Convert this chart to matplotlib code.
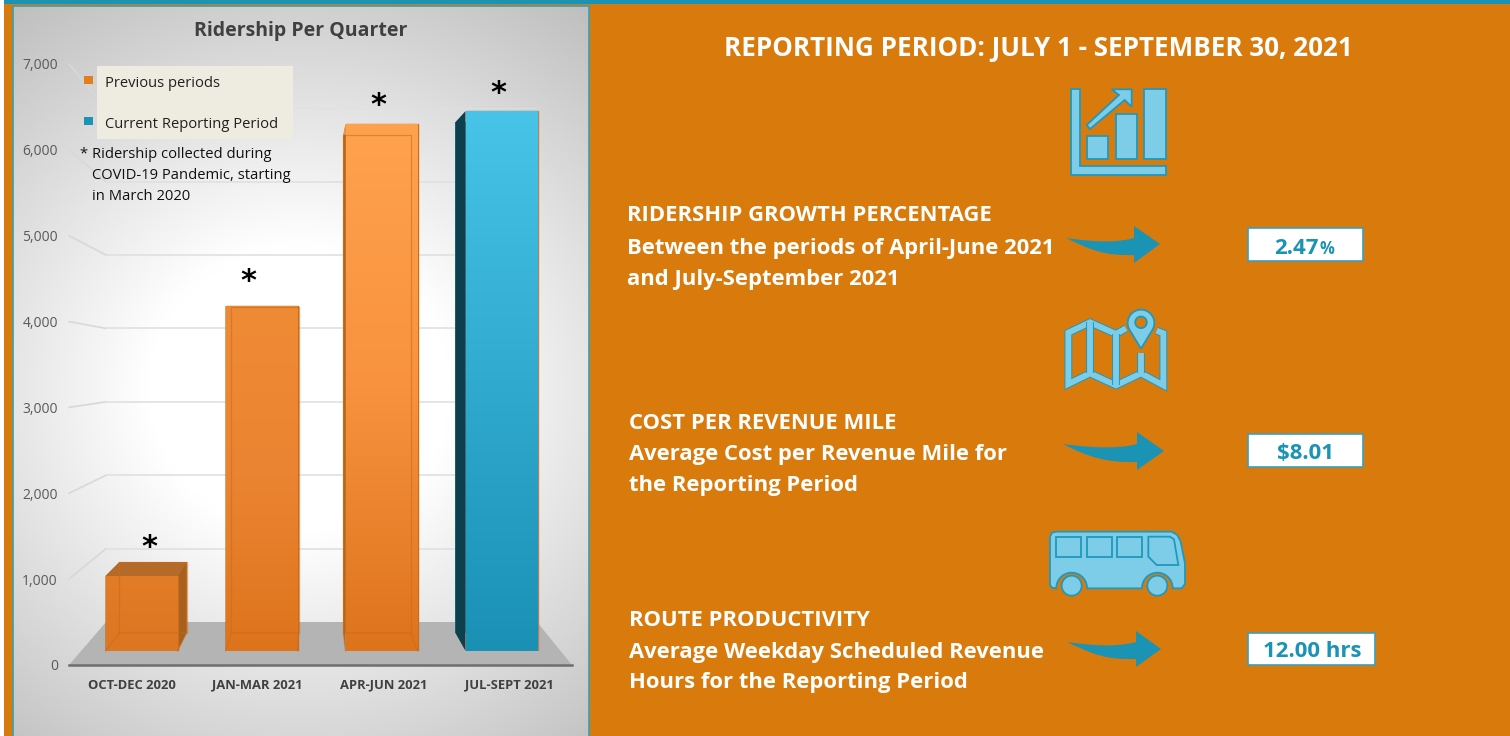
from __future__ import annotations

import matplotlib
matplotlib.use("Agg")
import matplotlib.pyplot as plt
import matplotlib.patheffects as pe
import numpy as np
from matplotlib.colors import LinearSegmentedColormap
from matplotlib.patches import Circle, ConnectionPatch, PathPatch, Polygon, Rectangle
from matplotlib.path import Path

plt.rcParams["font.family"] = ["Open Sans", "DejaVu Sans"]

FIG_W, FIG_H = 1510, 736

quarters = ["OCT-DEC 2020", "JAN-MAR 2021", "APR-JUN 2021", "JUL-SEPT 2021"]
ridership = [917, 4218, 6440, 6600]
y_ticks = [0, 1000, 2000, 3000, 4000, 5000, 6000, 7000]
y_max = 7000

ORANGE = "#d97a0c"
TEAL = "#1a93b5"
ICON_FILL = "#7ecde8"
ICON_EDGE = "#2098bb"

fig = plt.figure(figsize=(FIG_W / 100, FIG_H / 100), dpi=100, facecolor="white")


def px_axes(left: float, right: float, y0: float, y_top: float, zorder: int) -> plt.Axes:
    # axes whose box sits on the given pixel columns/rows of the picture
    axis = fig.add_axes([
        left / FIG_W,
        1 - y0 / FIG_H,
        (right - left) / FIG_W,
        (y0 - y_top) / FIG_H,
    ], zorder=zorder)
    axis.set_xlim(-0.5, 3.5)
    axis.set_ylim(0, y_max)
    axis.patch.set_alpha(0)
    return axis


def px_overlay(zorder: int) -> plt.Axes:
    axis = fig.add_axes([0, 0, 1, 1], zorder=zorder)
    axis.set_xlim(0, FIG_W)
    axis.set_ylim(FIG_H, 0)
    axis.axis("off")
    axis.patch.set_alpha(0)
    return axis


# page and panel, in pixel coordinates
bg = px_overlay(0)
bg.add_patch(Rectangle((4, 0), FIG_W - 4, FIG_H, color=ORANGE, lw=0))
bg.add_patch(Rectangle((4, 0), FIG_W - 4, 4, color=TEAL, lw=0))

xx, yy = np.meshgrid(np.linspace(13, 589, 200), np.linspace(6, 736, 200))
radius = np.hypot((xx - 300) / 380, (yy - 390) / 360)
shade = np.clip((radius - 0.4) / 0.95, 0, 1)
panel_cmap = LinearSegmentedColormap.from_list("panel", ["#ffffff", "#bcbcbc"])
bg.imshow(shade, extent=(13, 589, 736, 6), cmap=panel_cmap, vmin=0, vmax=1, aspect="auto", zorder=1)
bg.set_xlim(0, FIG_W)
bg.set_ylim(FIG_H, 0)
bg.add_patch(Rectangle((12.5, 5.5), 576.5, 731, fill=False, ec="#3a9db5", lw=1.2, zorder=2))
bg.add_patch(Polygon([(69, 665), (572, 665), (537, 622), (106, 622)], color="#b4b4b4", lw=0, zorder=2))

# three depth planes of the 3-D column chart
ax_front = px_axes(69, 572, 665, 64, 1)
ax_wall = px_axes(106, 537, 622, 108.2, 1)
ax_bar_back = px_axes(97, 545, 633, 91.2, 2)
mid = px_overlay(2.5)
ax_bar = px_axes(81.5, 561.5, 651, 78.4, 3)

for axis in (ax_wall, ax_bar_back, ax_bar):
    axis.axis("off")

ax_front.set_yticks(y_ticks, [f"{v:,}" for v in y_ticks])
ax_front.set_xticks(range(len(quarters)), quarters)
ax_front.tick_params(axis="y", length=0, pad=8, labelsize=10, labelcolor="#595959")
ax_front.tick_params(axis="x", length=0, pad=10, labelsize=9.4, labelcolor="#404040")
for label in ax_front.get_xticklabels():
    label.set_fontweight("bold")
for side in ("top", "right", "left"):
    ax_front.spines[side].set_visible(False)
ax_front.spines["bottom"].set_color("#6e6e6e")
ax_front.spines["bottom"].set_linewidth(1.8)

ax_wall.hlines(y_ticks[1:], -0.5, 3.5, color="#e0e0e0", lw=1.2)
for value in y_ticks[1:]:
    fig.add_artist(ConnectionPatch(
        xyA=(-0.5, value), coordsA=ax_front.transData,
        xyB=(-0.5, value), coordsB=ax_wall.transData,
        color="#d8d8d8", lw=1.2, zorder=0.5,
    ))

bar_width = 0.6
colors = ["orange", "orange", "orange", "teal"]
bar_ramps = [
    ["#dd7620", "#e27c26"],
    ["#dd741c", "#eb8432", "#ef8a35"],
    ["#dd741c", "#f8923e", "#ffa24e"],
    ["#1a90b5", "#47c4e8"],
]
ramp = np.linspace(1, 0, 256).reshape(-1, 1)

back_bars = ax_bar_back.bar(range(4), ridership, width=bar_width, color="#d97a20", lw=0)
front_bars = ax_bar.bar(range(4), ridership, width=bar_width, color="#e07a20", edgecolor="#c96c1b", lw=1)
back_bars[3].set_color(TEAL)
front_bars[3].set_edgecolor("#b98050")


def to_px(axis: plt.Axes, x: float, y: float) -> tuple[float, float]:
    px, py = axis.transData.transform((x, y))
    return px, FIG_H - py


for i, value in enumerate(ridership):
    half = bar_width / 2
    fl, ft = to_px(ax_bar, i - half, value)
    fr, fb = to_px(ax_bar, i + half, 0)
    bl, bt = to_px(ax_bar_back, i - half, value)
    br, bb = to_px(ax_bar_back, i + half, 0)
    if colors[i] == "teal":
        # only the dark left side shows on the current period
        mid.add_patch(Polygon([(fl, ft), (bl, bt), (bl, bb), (fl, fb)], color="#0e3f4c", lw=0))
    else:
        sides = [
            ([(fr, ft), (br, bt), (br, bb), (fr, fb)], "#a8601f"),
            ([(fl, ft), (bl, bt), (bl, bb), (fl, fb)], "#b5651d"),
        ]
        for points, color in sides:
            mid.add_patch(Polygon(points, color=color, lw=0))
        top_color = "#b46a28" if bt < ft else "#f59a48"
        mid.add_patch(Polygon([(fl, ft), (fr, ft), (br, bt), (bl, bt)], color=top_color, lw=0))

    cmap = LinearSegmentedColormap.from_list(f"bar{i}", bar_ramps[i])
    image = ax_bar.imshow(
        ramp, extent=(i - half, i + half, 0, value), cmap=cmap, aspect="auto", zorder=3
    )
    image.set_clip_path(front_bars[i])
    if colors[i] != "teal":
        # back edges of the translucent box seen through the front face
        for points in (
            [(fl, fb), (bl, bb), (br, bb), (fr, fb)],
            [(bl, bb), (bl, bt), (br, bt), (br, bb)],
        ):
            edge = np.array(points)
            fig.add_artist(plt.Line2D(
                edge[:, 0] / FIG_W, 1 - edge[:, 1] / FIG_H,
                color="#c96a18", lw=0.9, alpha=0.55, zorder=6,
            ))
ax_bar.set_xlim(-0.5, 3.5)
ax_bar.set_ylim(0, y_max)

# overlay for legend, notes, right-hand panel
fg = px_overlay(10)

fg.text(301, 36, "Ridership Per Quarter", ha="center", va="baseline", fontsize=14, fontweight="bold", color="#404040")

fg.add_patch(Rectangle((97, 66), 196, 73, color="#eeebe0", lw=0))
fg.add_patch(Rectangle((84, 76), 9, 7.5, color="#e27f1c", lw=0))
fg.add_patch(Rectangle((84, 117), 9, 7.5, color=TEAL, lw=0))
fg.text(105, 87, "Previous periods", fontsize=10.6, color="#202020")
fg.text(105, 128, "Current Reporting Period", fontsize=10.6, color="#202020")
fg.text(80, 158, "* Ridership collected during", fontsize=10.6, color="#101010")
fg.text(92, 179, "COVID-19 Pandemic, starting", fontsize=10.6, color="#101010")
fg.text(92, 200, "in March 2020", fontsize=10.6, color="#101010")

for sx, sy in [(149, 548), (248, 282), (378, 105), (498, 93)]:
    fg.text(sx, sy, "*", ha="center", va="center", fontsize=22, fontweight="bold", color="black", family="DejaVu Sans")

fg.text(1038, 56, "REPORTING PERIOD: JULY 1 - SEPTEMBER 30, 2021", ha="center", va="baseline",
        fontsize=18.7, fontweight="bold", color="white")

blocks = [
    (627, [221, 254, 285], ["RIDERSHIP GROWTH PERCENTAGE", "Between the periods of April-June 2021", "and July-September 2021"]),
    (629, [429, 460, 491], ["COST PER REVENUE MILE", "Average Cost per Revenue Mile for", "the Reporting Period"]),
    (629, [626, 658, 688], ["ROUTE PRODUCTIVITY", "Average Weekday Scheduled Revenue", "Hours for the Reporting Period"]),
]
for x, rows, lines in blocks:
    for y, line in zip(rows, lines):
        fg.text(x, y, line, fontsize=15.8, fontweight="bold", color="white")


def swoosh(tail: tuple, neck_x: float, head_top: float, tip: tuple, head_bottom: float) -> None:
    tx, ty = tail
    upper = ty
    lower = head_bottom - 8
    verts = [
        tail,
        ((tx + neck_x) / 2, upper + 5), (neck_x - 15, upper + 4), (neck_x, upper),
        (neck_x, head_top), tip, (neck_x, head_bottom), (neck_x, lower),
        (neck_x - 30, lower + 1), (tx + 25, lower - 5), tail,
    ]
    codes = [Path.MOVETO, Path.CURVE4, Path.CURVE4, Path.CURVE4, Path.LINETO, Path.LINETO,
             Path.LINETO, Path.LINETO, Path.CURVE4, Path.CURVE4, Path.CURVE4]
    fg.add_patch(PathPatch(Path(verts, codes), fc=TEAL, ec="none"))


swoosh((1066, 238), 1134, 226, (1160, 244), 263)
swoosh((1063, 444), 1137, 432, (1164, 451), 470)
swoosh((1067, 642), 1136, 631, (1161, 649), 667)

for x, y, w, h in [(1248, 228, 115, 33), (1248, 434, 115, 33), (1248, 633, 127, 32)]:
    fg.add_patch(Rectangle((x, y), w, h, fc="white", ec="#3aa0bd", lw=1.2))
fg.text(1319, 254, "2.47", ha="right", fontsize=16, fontweight="bold", color=TEAL)
fg.text(1319, 254, "%", ha="left", fontsize=12, fontweight="bold", color=TEAL)
fg.text(1305.5, 459, "$8.01", ha="center", fontsize=16, fontweight="bold", color=TEAL)
fg.text(1312, 657, "12.00 hrs", ha="center", fontsize=16, fontweight="bold", color=TEAL)


def zoomed(points: list, ox: float, oy: float) -> list:
    return [(ox + x / 3, oy + y / 3) for x, y in points]


def icon_poly(points: list, ox: float, oy: float) -> None:
    fg.add_patch(Polygon(zoomed(points, ox, oy), fc=ICON_FILL, ec=ICON_EDGE, lw=1.3))


# growth icon
icon_poly([(92, 28), (120, 28), (120, 258), (377, 258), (377, 284), (92, 284)], 1040, 80)
icon_poly([(142, 167), (205, 167), (205, 238), (142, 238)], 1040, 80)
icon_poly([(228, 101), (290, 101), (290, 238), (228, 238)], 1040, 80)
icon_poly([(313, 28), (377, 28), (377, 238), (313, 238)], 1040, 80)
icon_poly([(140, 135), (237, 45), (215, 28), (275, 28), (275, 80), (254, 60), (150, 147)], 1040, 80)

# map icon
map_lines = [
    [(258, 745), (228, 762), (150, 727), (85, 758), (85, 912), (150, 880), (228, 916), (303, 880), (370, 916), (370, 760), (350, 752)],
    [(150, 727), (150, 880)],
    [(228, 762), (228, 916)],
    [(303, 820), (303, 880)],
]
for line in map_lines:
    pts = np.array(zoomed(line, 1040, 80))
    fg.plot(pts[:, 0], pts[:, 1], color=ICON_FILL, lw=4.2, solid_joinstyle="miter", solid_capstyle="butt",
            path_effects=[pe.Stroke(linewidth=5.6, foreground=ICON_EDGE), pe.Normal()])

angles = np.radians(np.linspace(-35, 215, 40))
pin = [(303 + 40 * np.cos(a), 729 - 40 * np.sin(a)) for a in angles] + [(303, 806)]
icon_poly(pin, 1040, 80)
cx, cy = zoomed([(303, 727)], 1040, 80)[0]
fg.add_patch(Circle((cx, cy), 5.8, fc=ORANGE, ec=ICON_EDGE, lw=1.3))

# bus icon
well_a = [(95 + 46 * np.cos(a), 504 - 46 * np.sin(a)) for a in np.radians(np.linspace(0, 180, 24))]
well_b = [(352 + 46 * np.cos(a), 504 - 46 * np.sin(a)) for a in np.radians(np.linspace(0, 180, 24))]
bus_body = (
    [(30, 350), (36, 338), (48, 335), (395, 335), (412, 345), (422, 365), (435, 430), (435, 492), (425, 505), (398, 505)]
    + well_b
    + [(306, 505), (141, 505)]
    + well_a
    + [(49, 505), (36, 503), (30, 495)]
)
icon_poly(bus_body, 1040, 420)
for x0, x1 in [(48, 123), (140, 215), (232, 306)]:
    icon_poly([(x0, 350), (x1, 350), (x1, 411), (x0, 411)], 1040, 420)
icon_poly([(325, 350), (390, 350), (402, 358), (415, 435), (350, 435), (325, 410)], 1040, 420)
for wheel_x in (95, 352):
    wx, wy = zoomed([(wheel_x, 497)], 1040, 420)[0]
    fg.add_patch(Circle((wx, wy), 10, fc=ICON_FILL, ec=ICON_EDGE, lw=1.3))

plt.savefig("out.png", dpi=100)
plt.close()
